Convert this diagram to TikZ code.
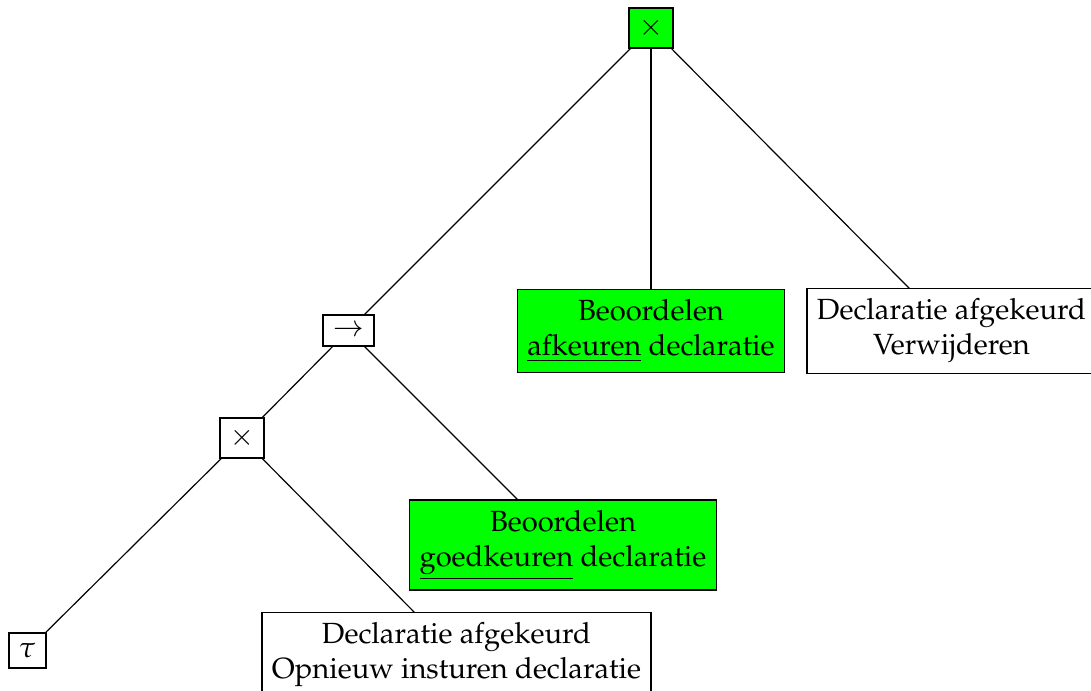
\documentclass[tikz,border=0pt]{standalone}
\usepackage[T1]{fontenc}
\usepackage{mathpazo}
\begin{document}
\begin{tikzpicture}[x=0.3428pt,y=-0.3428pt,
  opbox/.style={draw, inner sep=0pt, minimum width=15.1pt, minimum height=13.7pt},
  leafbox/.style={draw, align=center, inner sep=3.4pt},
  activebox/.style={leafbox, fill=green}]
\useasboundingbox (0,0) rectangle (1091,691);
% operator nodes of the process tree
\node[opbox, fill=green] (root) at (651,28) {$\times$};
\node[opbox, minimum width=17.5pt, minimum height=10.6pt] (seq) at (348.5,330.5) {$\rightarrow$};
\node[opbox] (xor) at (242,438) {$\times$};
\node[opbox, minimum width=12.7pt, minimum height=12pt] (tau) at (27.5,650.5) {$\tau$};
% activity leaves
\node[activebox] (afk) at (651,331) {Beoordelen\\\underline{afkeuren} declaratie};
\node[leafbox] (verw) at (951.5,331) {Declaratie afgekeurd\\Verwijderen};
\node[activebox] (goed) at (563,545) {Beoordelen\\\underline{goedkeuren} declaratie};
\node[leafbox] (opn) at (456.5,655) {Declaratie afgekeurd\\Opnieuw insturen declaratie};
% edges
\draw (root) -- (seq);
\draw (root) -- (afk);
\draw (root) -- (verw);
\draw (seq) -- (xor);
\draw (seq) -- (goed);
\draw (xor) -- (tau);
\draw (xor) -- (opn);
\end{tikzpicture}
\end{document}
